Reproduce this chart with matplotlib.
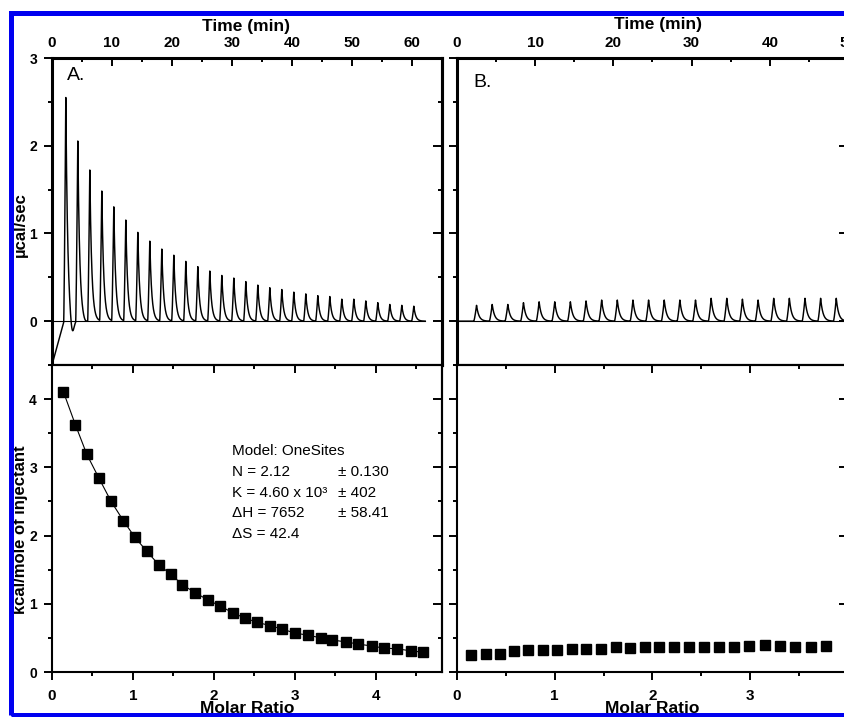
import numpy as np
import matplotlib
matplotlib.use("Agg")
import matplotlib.pyplot as plt
from matplotlib.patches import Rectangle
from matplotlib.ticker import MultipleLocator

plt.rcParams['font.family'] = ['Liberation Sans', 'DejaVu Sans']
plt.rcParams['font.weight'] = 'bold'

# ---------------- data ----------------
# Panel A raw thermogram: injection peak times (min) and heights (ucal/sec)
a_peak_times = [2.3, 4.3, 6.3, 8.3, 10.3, 12.3, 14.3, 16.3, 18.3, 20.3,
                22.3, 24.3, 26.3, 28.3, 30.3, 32.3, 34.3, 36.3, 38.3, 40.3,
                42.3, 44.3, 46.3, 48.3, 50.3, 52.3, 54.3, 56.3, 58.3, 60.3]
a_peak_heights = [2.55, 2.05, 1.72, 1.48, 1.30, 1.15, 1.01, 0.91, 0.82, 0.75,
                  0.68, 0.62, 0.57, 0.52, 0.49, 0.45, 0.41, 0.38, 0.36, 0.33,
                  0.31, 0.29, 0.28, 0.25, 0.25, 0.23, 0.21, 0.19, 0.18, 0.17]
a_start_offset = -0.5     # trace value at t = 0
a_settle_time = 2.0       # time at which the trace reaches the baseline
a_dip_times = [3.35, 5.5]
a_dip_depths = [-0.19, -0.03]
a_trace_end = 62.2

# Panel B raw thermogram
b_peak_times = [2.5, 4.5, 6.5, 8.5, 10.5, 12.5, 14.5, 16.5, 18.5, 20.5,
                22.5, 24.5, 26.5, 28.5, 30.5, 32.5, 34.5, 36.5, 38.5, 40.5,
                42.5, 44.5, 46.5, 48.5]
b_peak_heights = [0.18, 0.19, 0.19, 0.21, 0.22, 0.22, 0.22, 0.23, 0.24, 0.24,
                  0.24, 0.24, 0.24, 0.24, 0.24, 0.26, 0.26, 0.25, 0.24, 0.26,
                  0.26, 0.26, 0.26, 0.26]
b_trace_end = 50.0

# Panel A integrated heats
a_ratio = [0.14, 0.29, 0.43, 0.58, 0.73, 0.88, 1.02, 1.17, 1.32, 1.47,
           1.61, 1.77, 1.92, 2.07, 2.23, 2.38, 2.53, 2.69, 2.84, 3.00,
           3.16, 3.32, 3.46, 3.63, 3.78, 3.95, 4.10, 4.26, 4.43, 4.58]
a_heat = [4.11, 3.62, 3.19, 2.84, 2.50, 2.22, 1.98, 1.77, 1.57, 1.43,
          1.28, 1.16, 1.06, 0.97, 0.87, 0.79, 0.73, 0.68, 0.63, 0.57,
          0.54, 0.50, 0.47, 0.44, 0.41, 0.38, 0.35, 0.34, 0.31, 0.29]

# Panel B integrated heats
b_ratio = [0.14, 0.30, 0.44, 0.58, 0.73, 0.88, 1.02, 1.18, 1.32, 1.47,
           1.63, 1.77, 1.92, 2.07, 2.22, 2.37, 2.53, 2.68, 2.83, 2.99,
           3.15, 3.30, 3.46, 3.62, 3.77]
b_heat = [0.25, 0.26, 0.26, 0.31, 0.32, 0.32, 0.32, 0.33, 0.34, 0.34,
          0.36, 0.35, 0.36, 0.37, 0.37, 0.37, 0.37, 0.37, 0.37, 0.38,
          0.40, 0.38, 0.37, 0.37, 0.38]

fit_lines_left = ["Model: OneSites", "N = 2.12", "K = 4.60 x 10\u00b3",
                  "\u0394H = 7652", "\u0394S = 42.4"]
fit_lines_right = ["", "\u00b1 0.130", "\u00b1 402", "\u00b1 58.41", ""]


def thermogram(t, peak_times, peak_heights, rise, tau):
    y = np.zeros_like(t)
    for t0, h in zip(peak_times, peak_heights):
        up = (t >= t0 - rise) & (t < t0)
        y[up] += h * ((t[up] - (t0 - rise)) / rise) ** 1.3
        down = t >= t0
        y[down] += h * np.exp(-(t[down] - t0) / tau)
    return y


# ---------------- figure ----------------
W, H = 845, 717
fig = plt.figure(figsize=(W / 100, H / 100), dpi=100)


def box(l, t, r, b):
    return [l / W, 1 - b / H, (r - l) / W, (b - t) / H]


axAt = fig.add_axes(box(52, 58, 442, 365))
axAb = fig.add_axes(box(52, 365, 442, 672))
axBt = fig.add_axes(box(457, 58, 848, 365))
axBb = fig.add_axes(box(457, 365, 848, 672))

MAJ_LEN, MIN_LEN, TW = 5.8, 3.2, 1.4


def style(ax, top_panel, left_labels):
    lw = 2.2 if top_panel else 1.5
    for s in ax.spines.values():
        s.set_linewidth(lw)
    ax.yaxis.set_minor_locator(MultipleLocator(0.5))
    ax.yaxis.set_major_locator(MultipleLocator(1))
    ax.tick_params(axis='y', which='both', left=True, right=False,
                   direction='out', labelleft=left_labels, labelright=False,
                   width=TW, labelsize=10, pad=5.0)
    ax.tick_params(axis='y', which='major', length=MAJ_LEN)
    ax.tick_params(axis='y', which='minor', length=MIN_LEN)
    # right-side ticks pointing inward (to the left)
    sy = ax.secondary_yaxis('right')
    sy.yaxis.set_major_locator(MultipleLocator(1))
    sy.yaxis.set_minor_locator(MultipleLocator(0.5))
    sy.tick_params(axis='y', which='both', direction='in', labelright=False,
                   width=TW)
    sy.tick_params(axis='y', which='major', length=MAJ_LEN + 0.5)
    sy.tick_params(axis='y', which='minor', length=MIN_LEN)
    sy.spines['right'].set_linewidth(lw)
    if top_panel:
        ax.xaxis.set_major_locator(MultipleLocator(10))
        ax.xaxis.set_minor_locator(MultipleLocator(5))
        ax.tick_params(axis='x', which='both', top=True, bottom=False,
                       labeltop=True, labelbottom=False, direction='in',
                       width=TW, labelsize=11, pad=6.0)
        ax.tick_params(axis='x', which='major', length=MAJ_LEN)
        ax.tick_params(axis='x', which='minor', length=MIN_LEN)
        ax.xaxis.set_label_position('top')
    else:
        ax.xaxis.set_major_locator(MultipleLocator(1))
        ax.xaxis.set_minor_locator(MultipleLocator(0.5))
        ax.tick_params(axis='x', which='both', top=False, bottom=True,
                       labeltop=False, labelbottom=True, direction='out',
                       width=TW, labelsize=11, pad=6.5)
        ax.tick_params(axis='x', which='major', length=MAJ_LEN)
        ax.tick_params(axis='x', which='minor', length=MIN_LEN)
        sx = ax.secondary_xaxis('top')
        sx.xaxis.set_major_locator(MultipleLocator(1))
        sx.xaxis.set_minor_locator(MultipleLocator(0.5))
        sx.tick_params(axis='x', which='both', direction='in', labeltop=False,
                       width=TW)
        sx.tick_params(axis='x', which='major', length=MAJ_LEN)
        sx.tick_params(axis='x', which='minor', length=MIN_LEN)
        sx.spines['top'].set_linewidth(lw)


# ---- panel A, raw data ----
tA = np.arange(0, a_trace_end, 0.01)
yA = thermogram(tA, a_peak_times, a_peak_heights, rise=0.35, tau=0.32)
yA += np.where(tA < a_settle_time, a_start_offset * (1 - tA / a_settle_time), 0)
for tc, d in zip(a_dip_times, a_dip_depths):
    yA += d * np.exp(-0.5 * ((tA - tc) / 0.3) ** 2)
axAt.plot([0, a_trace_end], [0, 0], color='black', lw=0.8)
axAt.plot(tA, yA, color='black', lw=1.05)
axAt.set_xlim(0, 65)
axAt.set_ylim(-0.5, 3)
style(axAt, True, True)
axAt.set_xlabel('Time (min)', fontsize=12.5, fontweight='bold')
axAt.xaxis.set_label_coords(0.4987, 1.088)
axAt.set_ylabel('\u00b5cal/sec', fontsize=12, fontweight='bold')
axAt.yaxis.set_label_coords(-0.061, 0.456)
axAt.text(2.5, 2.9, 'A.', fontsize=14, fontweight='normal', ha='left', va='top')

# ---- panel B, raw data ----
tB = np.arange(0, b_trace_end, 0.01)
yB = thermogram(tB, b_peak_times, b_peak_heights, rise=0.35, tau=0.3)
axBt.plot([0, b_trace_end], [0, 0], color='black', lw=0.8)
axBt.plot(tB, yB, color='black', lw=1.05)
axBt.set_xlim(0, 50)
axBt.set_ylim(-0.5, 3)
style(axBt, True, False)
axBt.set_xlabel('Time (min)', fontsize=12.5, fontweight='bold')
axBt.xaxis.set_label_coords(0.514, 1.095)
axBt.text(2.05, 2.82, 'B.', fontsize=14, fontweight='normal', ha='left', va='top')

# ---- panel A, integrated heats ----
axAb.plot(a_ratio, a_heat, color='black', lw=0.8)
axAb.plot(a_ratio, a_heat, ls='none', marker='s', ms=6.5, color='black')
axAb.set_xlim(0, 4.815)
axAb.set_ylim(0, 4.5)
style(axAb, False, True)
axAb.set_xlabel('Molar Ratio', fontsize=12.5, fontweight='bold')
axAb.xaxis.set_label_coords(0.5, -0.095)
axAb.set_ylabel('kcal/mole of injectant', fontsize=12, fontweight='bold')
axAb.yaxis.set_label_coords(-0.061, 0.4625)
baselines = [3.18, 2.87, 2.57, 2.27, 1.96]
for yb, lt, rt in zip(baselines, fit_lines_left, fit_lines_right):
    axAb.text(2.22, yb, lt, fontsize=11, fontweight='normal', va='baseline')
    if rt:
        axAb.text(3.53, yb, rt, fontsize=11, fontweight='normal', va='baseline')

# ---- panel B, integrated heats ----
axBb.plot(b_ratio, b_heat, ls='none', marker='s', ms=6.5, color='black')
axBb.set_xlim(0, 4.0)
axBb.set_ylim(0, 4.5)
style(axBb, False, False)
axBb.set_xlabel('Molar Ratio', fontsize=12.5, fontweight='bold')
axBb.xaxis.set_label_coords(0.499, -0.095)

# ---- blue frame ----
frame = Rectangle((10.8 / W, 2.0 / H), (870 - 10.8) / W, (715 - 12.5) / H,
                  transform=fig.transFigure, fill=False, edgecolor='#0000F0',
                  lw=3.6, zorder=100)
fig.add_artist(frame)

fig.savefig('out.png', dpi=100)
